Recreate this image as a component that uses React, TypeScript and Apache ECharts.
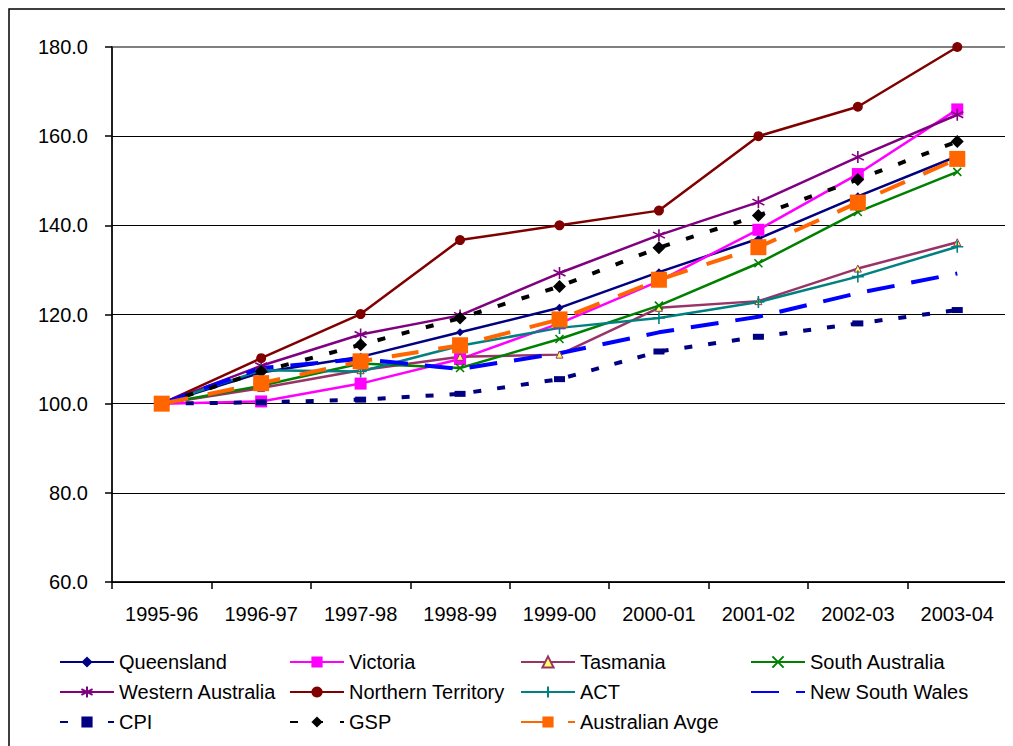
import React, { useEffect, useRef } from "react";
import * as echarts from "echarts";

const categories = ["1995-96", "1996-97", "1997-98", "1998-99", "1999-00", "2000-01", "2001-02", "2002-03", "2003-04"];

const queensland = [100, 107, 110.5, 116, 121.5, 129.5, 137, 146.5, 155.5];
const victoria = [100, 100.5, 104.5, 110, 118, 127.5, 139, 151.5, 166];
const tasmania = [100, 103.5, 107.5, 110.5, 111, 121.5, 123, 130.3, 136.2];
const southAustralia = [100, 104, 109, 108, 114.5, 122, 131.5, 143, 152];
const westernAustralia = [100, 108.5, 115.5, 119.8, 129.3, 137.8, 145.2, 155.3, 164.8];
const northernTerritory = [100, 110.2, 120.1, 136.7, 140, 143.3, 160, 166.6, 180];
const act = [100, 107.5, 107.2, 113, 117, 119.2, 122.8, 128.5, 135.2];
const newSouthWales = [100, 108, 110, 107.8, 111.3, 116, 119.5, 124.8, 129.2];
const cpi = [100, 100.3, 100.9, 102.2, 105.5, 111.7, 115, 118, 121];
const gsp = [100, 107.2, 113.2, 119.2, 126.3, 135, 142.2, 150.3, 158.8];
const australianAvge = [100, 104.6, 109.5, 113.1, 118.9, 127.8, 135.1, 145.1, 154.9];

const FONT = "'Liberation Sans', Arial, sans-serif";

const X_PATH = "path://M0,0L10,10M10,0L0,10";
const STAR_PATH = "path://M5,0L5,10M0.7,2.5L9.3,7.5M0.7,7.5L9.3,2.5";
const PLUS_PATH = "path://M5,0L5,10M0,5L10,5";

const seriesDefs: any[] = [
  { name: "Queensland", data: queensland, color: "#000080", width: 2.5, type: "solid", symbol: "diamond", symbolSize: 8 },
  { name: "Victoria", data: victoria, color: "#FF00FF", width: 2.5, type: "solid", symbol: "rect", symbolSize: 12 },
  { name: "Tasmania", data: tasmania, color: "#993366", fill: "#FFFF66", width: 2.5, type: "solid", symbol: "triangle", symbolSize: 7 },
  { name: "South Australia", data: southAustralia, color: "#008000", width: 2.5, type: "solid", symbol: X_PATH, symbolSize: 8, stroke: true },
  { name: "Western Australia", data: westernAustralia, color: "#800080", width: 2.5, type: "solid", symbol: STAR_PATH, symbolSize: 12, stroke: true },
  { name: "Northern Territory", data: northernTerritory, color: "#800000", width: 2.5, type: "solid", symbol: "circle", symbolSize: 10 },
  { name: "ACT", data: act, color: "#008080", width: 2.5, type: "solid", symbol: PLUS_PATH, symbolSize: 12, stroke: true },
  { name: "New South Wales", data: newSouthWales, color: "#0000FF", width: 4, type: [28, 17], symbol: "none", symbolSize: 0 },
  { name: "CPI", data: cpi, color: "#000080", width: 4, type: [8, 16], symbol: "rect", symbolSize: [11, 6] },
  { name: "GSP", data: gsp, color: "#000000", width: 4, type: [8, 17], symbol: "diamond", symbolSize: 13 },
  { name: "Australian Avge", data: australianAvge, color: "#FF6600", width: 4, type: [27, 20], symbol: "rect", symbolSize: 16 },
];

const legendCols = [51, 281, 512, 742];
const legendRows = [644, 674, 704];

export default function App() {
  const ref = useRef<HTMLDivElement>(null);
  useEffect(() => {
    const chart = echarts.init(ref.current!, null, { renderer: "svg" });
    const series = seriesDefs.map((s) => ({
      name: s.name,
      type: "line",
      data: s.data,
      color: s.color,
      symbol: s.symbol === "none" ? "rect" : s.symbol,
      symbolSize: s.symbolSize,
      showSymbol: s.symbol !== "none",
      lineStyle: { color: s.color, width: s.width, type: s.type },
      itemStyle: s.stroke
        ? { color: s.color, borderColor: s.color, borderWidth: 1.6 }
        : { color: s.fill || s.color, borderColor: s.color, borderWidth: s.fill ? 1 : 0 },
      emphasis: { disabled: true },
    }));
    const legends = seriesDefs.map((s, i) => ({
      data: [s.symbol === "none" ? { name: s.name, itemStyle: { opacity: 0 } } : { name: s.name }],
      left: legendCols[i % 4],
      top: legendRows[Math.floor(i / 4)],
      orient: "horizontal",
      padding: 0,
      itemWidth: 54,
      itemHeight: 14,
      selectedMode: false,
      textStyle: { fontSize: 20, fontFamily: FONT, color: "#000" },
    }));
    chart.setOption({
      animation: false,
      backgroundColor: "#fff",
      textStyle: { fontFamily: FONT },
      graphic: [
        {
          type: "rect",
          shape: { x: 1, y: 1, width: 1200, height: 1200 },
          style: { fill: "none", stroke: "#000", lineWidth: 1.5 },
          silent: true,
        },
      ],
      grid: {
        left: 104,
        right: 6,
        top: 39,
        bottom: 164,
        show: true,
        borderColor: "#808080",
        borderWidth: 2,
        containLabel: false,
      },
      legend: legends,
      xAxis: {
        type: "category",
        data: categories,
        boundaryGap: true,
        axisLine: { lineStyle: { color: "#000", width: 1.5 } },
        axisTick: { show: true, length: 7, lineStyle: { color: "#000", width: 1.5 } },
        axisLabel: { fontSize: 20, color: "#000", margin: 22, fontFamily: FONT },
        splitLine: { show: false },
      },
      yAxis: {
        type: "value",
        min: 60,
        max: 180,
        interval: 20,
        axisLine: { show: true, lineStyle: { color: "#000", width: 1.5 } },
        axisTick: { show: true, length: 7, lineStyle: { color: "#000", width: 1.5 } },
        axisLabel: {
          fontSize: 20,
          color: "#000",
          margin: 24,
          fontFamily: FONT,
          formatter: (v: number) => v.toFixed(1),
        },
        splitLine: {
          show: true,
          lineStyle: { color: ["#000", "#000", "#000", "#000", "#000", "#000", "#808080"], width: 1.2 },
        },
      },
      series,
    });
    return () => chart.dispose();
  }, []);
  return <div ref={ref} style={{ width: 1005, height: 738 }} />;
}
